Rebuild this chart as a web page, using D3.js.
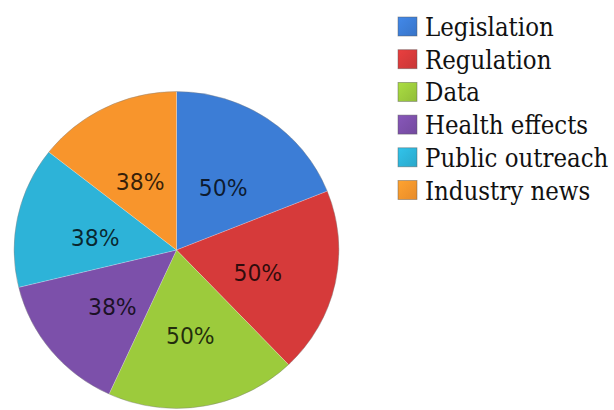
<!DOCTYPE html>
<html>
<head>
<meta charset="utf-8">
<script src="https://cdn.jsdelivr.net/npm/d3@7"></script>
<style>
  html, body { margin: 0; padding: 0; background: #fff; }
  svg { display: block; }
</style>
</head>
<body>
<svg id="chart" width="614" height="410"></svg>
<script>
// Topics covered and their share of items
const categories = ["Legislation", "Regulation", "Data", "Health effects", "Public outreach", "Industry news"];
const values = [50, 50, 50, 38, 38, 38];
const labels = ["50%", "50%", "50%", "38%", "38%", "38%"];
const colors = ["#3c7dd6", "#d63a3a", "#9ccb3c", "#7c50aa", "#2db3d8", "#f8952c"];

const svg = d3.select("#chart");
const width = 614, height = 410;

// Pie geometry
const cx = 176.5, cy = 250, radius = 160;
const color = d3.scaleOrdinal().domain(categories).range(colors);

const pie = d3.pie().sort(null).value(d => d.value).startAngle(0).endAngle(2 * Math.PI);
const data = categories.map((c, i) => ({ name: c, value: values[i], label: labels[i] }));
const arcs = pie(data);

const arc = d3.arc().innerRadius(0).outerRadius(radius);
const labelArc = d3.arc().innerRadius(82).outerRadius(82);

const g = svg.append("g")
  .attr("transform", `translate(${cx},${cy}) scale(1.015,0.99)`);

g.selectAll("path.slice")
  .data(arcs)
  .join("path")
  .attr("class", "slice")
  .attr("d", arc)
  .attr("fill", d => color(d.data.name))
  .attr("stroke", "rgba(255,255,255,0.35)")
  .attr("stroke-width", 0.6);

// thin outline around the whole pie
g.append("circle")
  .attr("r", radius)
  .attr("fill", "none")
  .attr("stroke", "rgba(60,60,60,0.35)")
  .attr("stroke-width", 0.8);

// Percentage labels inside slices
g.selectAll("text.pct")
  .data(arcs)
  .join("text")
  .attr("class", "pct")
  .attr("transform", d => {
    const [x, y] = labelArc.centroid(d);
    return `translate(${x},${y + 5})`;
  })
  .attr("text-anchor", "middle")
  .attr("dy", "0.36em")
  .style("font-family", "'DejaVu Sans Condensed', 'DejaVu Sans', sans-serif")
  .style("font-stretch", "condensed")
  .style("font-size", "24px")
  .attr("fill", "#000")
  .attr("fill-opacity", 0.78)
  .text(d => d.data.label);

// Legend
const legend = svg.append("g").attr("transform", "translate(398,17)");
const rowH = 32.7;

const defs = svg.append("defs");
colors.forEach((c, i) => {
  const grad = defs.append("linearGradient")
    .attr("id", "lg" + i)
    .attr("x1", 0).attr("y1", 0).attr("x2", 1).attr("y2", 1);
  grad.append("stop").attr("offset", "0%").attr("stop-color", d3.color(c).brighter(0.25));
  grad.append("stop").attr("offset", "100%").attr("stop-color", d3.color(c).darker(0.2));
});

const items = legend.selectAll("g.item")
  .data(categories)
  .join("g")
  .attr("class", "item")
  .attr("transform", (d, i) => `translate(0,${i * rowH})`);

items.append("rect")
  .attr("x", 0).attr("y", 0)
  .attr("width", 19).attr("height", 19)
  .attr("fill", (d, i) => `url(#lg${i})`)
  .attr("stroke", "rgba(90,90,90,0.55)")
  .attr("stroke-width", 0.8);

items.append("text")
  .attr("x", 27)
  .attr("y", 19)
  .style("font-family", "'DejaVu Serif Condensed', 'DejaVu Serif', serif")
  .style("font-stretch", "condensed")
  .style("font-size", "25.5px")
  .attr("fill", "#111")
  .text(d => d);
</script>
</body>
</html>
